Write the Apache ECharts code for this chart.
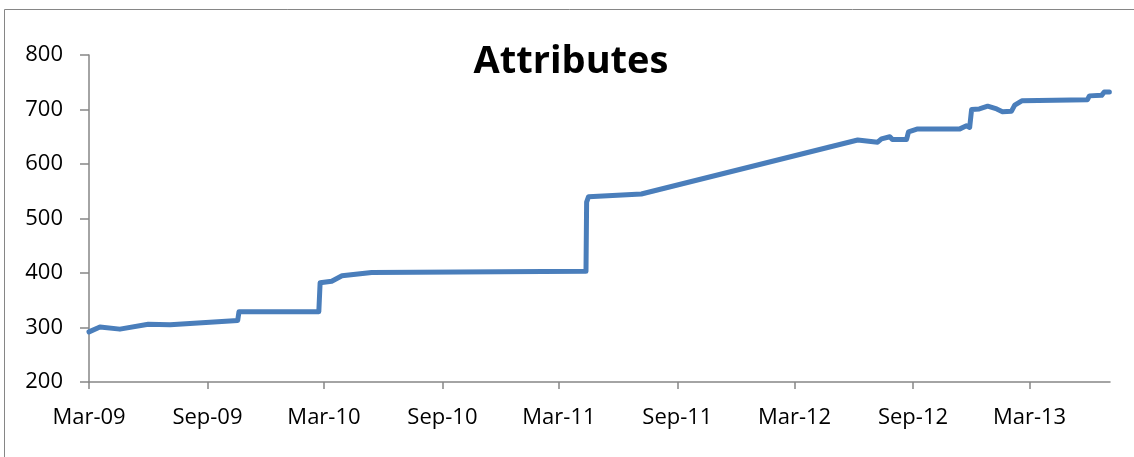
<!DOCTYPE html>
<html>
<head>
<meta charset="utf-8">
<script src="https://cdn.jsdelivr.net/npm/echarts@6/dist/echarts.min.js"></script>
<style>
html,body{margin:0;padding:0;background:#fff;}
#c{width:1134px;height:457px;}
</style>
</head>
<body>
<div id="c"></div>
<script>
const titleText = 'Attributes';
const dates = ['2009-03-01','2009-03-18','2009-04-18','2009-06-01','2009-07-05','2009-10-18','2009-10-20','2010-02-21','2010-02-23','2010-03-13','2010-03-29','2010-05-14','2011-04-12','2011-04-13','2011-04-16','2011-07-07','2012-06-07','2012-07-08','2012-07-14','2012-07-27','2012-07-31','2012-08-22','2012-08-25','2012-09-07','2012-11-12','2012-11-23','2012-11-28','2012-11-30','2012-12-01','2012-12-13','2012-12-26','2013-01-09','2013-01-18','2013-02-01','2013-02-06','2013-02-17','2013-05-30','2013-06-02','2013-06-21','2013-06-25','2013-07-03'];
const values = [292,301,297,306,305,313,329,329,382,385,395,401,403,530,540,545,644,640,646,650,645,645,659,664,664,670,667,667,700,701,706,701,696,697,708,716,718,725,726,732,732];
const tickDates = ['2009-03-01','2009-09-01','2010-03-01','2010-09-01','2011-03-01','2011-09-01','2012-03-01','2012-09-01','2013-03-01'];
const tickLabels = ['Mar-09','Sep-09','Mar-10','Sep-10','Mar-11','Sep-11','Mar-12','Sep-12','Mar-13'];
const axisMinDate = '2009-03-01';
const axisMaxDate = '2013-07-04';
const yMin = 200, yMax = 800, yStep = 100;

const ts = d => { const p = d.split('-').map(Number); return Date.UTC(p[0], p[1]-1, p[2]); };
const tickTs = tickDates.map(ts);
const labelMap = {};
tickTs.forEach((t,i)=>{ labelMap[t] = tickLabels[i]; });

const chart = echarts.init(document.getElementById('c'), null, {renderer:'canvas'});
const font = "'Open Sans', 'Liberation Sans', sans-serif";
const axisGray = '#868686';
chart.setOption({
  animation: false,
  grid: {left: 89, right: 24, top: 55, bottom: 75, containLabel: false},
  graphic: [
    {type:'rect', shape:{x:4.5, y:9.5, width:1300, height:600}, style:{fill:'none', stroke:axisGray, lineWidth:1}, silent:true},
    {type:'text', x:571, y:62, style:{text:titleText, font:"bold 38px " + font, fill:'#000', textAlign:'center', textVerticalAlign:'middle'}}
  ],
  xAxis: {
    type: 'value',
    min: ts(axisMinDate),
    max: ts(axisMaxDate),
    splitLine: {show:false},
    axisLine: {lineStyle:{color:axisGray, width:1.5}},
    axisTick: {show:true, customValues: tickTs, length:7, lineStyle:{color:axisGray, width:1.5}},
    axisLabel: {customValues: tickTs, formatter: v => labelMap[v] || '', color:'#000', fontFamily:font, fontSize:22, margin:25, hideOverlap:false, showMinLabel:true, showMaxLabel:true}
  },
  yAxis: {
    type: 'value',
    min: yMin, max: yMax, interval: yStep,
    splitLine: {show:false},
    axisLine: {show:true, lineStyle:{color:axisGray, width:1.5}},
    axisTick: {show:true, length:9, lineStyle:{color:axisGray, width:1.5}},
    axisLabel: {color:'#000', fontFamily:font, fontSize:22, margin:26}
  },
  series: [{
    type: 'line',
    data: dates.map((d,i)=>[ts(d), values[i]]),
    showSymbol: false,
    symbol: 'none',
    lineStyle: {color:'#4A7EBB', width:5, join:'round', cap:'round'},
    itemStyle: {color:'#4A7EBB'}
  }]
});
</script>
</body>
</html>
